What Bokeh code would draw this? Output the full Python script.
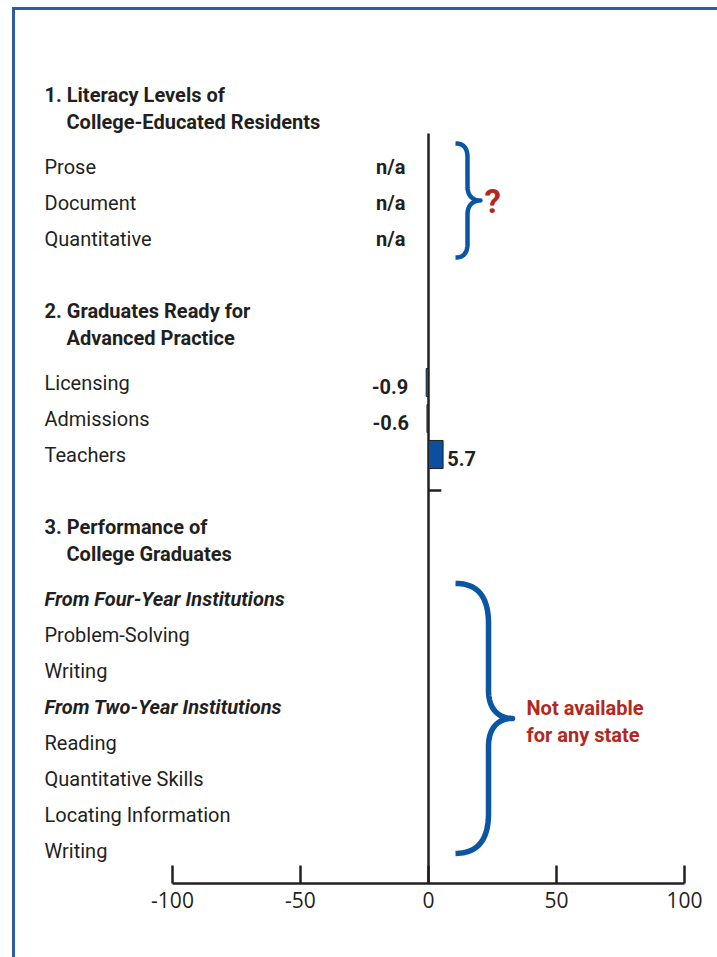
import numpy as np
from bokeh.plotting import figure
from bokeh.models import Range1d, LinearAxis, FixedTicker, ColumnDataSource
from bokeh.core.properties import value
from bokeh.embed import file_html
from bokeh.resources import INLINE

# ---------------- data ----------------
section1_title = ["1. Literacy Levels of", "College-Educated Residents"]
section1_rows = ["Prose", "Document", "Quantitative"]
section1_values = ["n/a", "n/a", "n/a"]

section2_title = ["2. Graduates Ready for", "Advanced Practice"]
section2_rows = ["Licensing", "Admissions", "Teachers"]
section2_values = [-0.9, -0.6, 5.7]

section3_title = ["3. Performance of", "College Graduates"]
section3_group1 = "From Four-Year Institutions"
section3_group1_rows = ["Problem-Solving", "Writing"]
section3_group2 = "From Two-Year Institutions"
section3_group2_rows = ["Reading", "Quantitative Skills", "Locating Information", "Writing"]

note_section1 = "?"
note_section3 = ["Not available", "for any state"]
x_ticks = [-100, -50, 0, 50, 100]
x_tick_labels = ["-100", "-50", "0", "50", "100"]

# ---------------- style ----------------
TEXT = "#231f20"
BLUE = "#0a56a4"
BAR = "#0b4f9e"
RED = "#b3281d"
FRAME = "#2d5ca3"
LABEL_FONT = "Roboto"
TICK_FONT = "Open Sans"

SX = 2.56   # px per x unit
SY = 36.0   # px per row slot
W, H = 717, 957
ZERO_PX = 428          # canvas x of value 0
ROW0_PX = 166          # canvas y of first row

x_start = -ZERO_PX / SX
x_end = (W - ZERO_PX) / SX
y_top = -ROW0_PX / SY
y_bot = (H - ROW0_PX) / SY

# ---------------- row layout (slots) ----------------
s1_head = -2
s1_y = [0, 1, 2]
s2_head = s1_y[-1] + 2
s2_y = [s2_head + 2 + i for i in range(len(section2_rows))]
s3_head = s2_y[-1] + 2
g1_y = s3_head + 2
g1_rows_y = [g1_y + 1 + i for i in range(len(section3_group1_rows))]
g2_y = g1_rows_y[-1] + 1
g2_rows_y = [g2_y + 1 + i for i in range(len(section3_group2_rows))]
axis_y = g2_rows_y[-1] + 0.92
LINE2 = 0.77

p = figure(width=W, height=H, x_range=Range1d(x_start, x_end),
           y_range=Range1d(y_bot, y_top), min_border=0,
           toolbar_location=None, output_backend="svg",
           x_axis_location=None, y_axis_location=None)
p.grid.visible = False
p.outline_line_color = None
p.background_fill_color = "white"
p.border_fill_color = "white"

# frame border (left and top)
bx = x_start + 13 / SX
btop = y_top + 8 / SY
p.segment(x0=[bx, bx - 1.5 / SX], y0=[btop, btop],
          x1=[bx, x_end], y1=[y_bot, btop],
          line_color=FRAME, line_width=3)

# zero line
p.segment(x0=[0], y0=[s1_y[0] - 0.92], x1=[0], y1=[axis_y],
          line_color=TEXT, line_width=2.5)
# separator tick between sections 2 and 3
sep = (s2_y[-1] + s3_head) / 2
p.segment(x0=[0], y0=[sep], x1=[5], y1=[sep], line_color=TEXT, line_width=2.5)

# bars
src = ColumnDataSource(dict(y=s2_y, v=section2_values))
p.hbar(y="y", left=0, right="v", height=0.78, source=src,
       fill_color=BAR, line_color=TEXT, line_width=1)

LX = x_start + 44 / SX
FS = "20px"
# titles
heads = [(section1_title, s1_head), (section2_title, s2_head), (section3_title, s3_head)]
p.text(x=[LX] * 3, y=[h[1] for h in heads], text=[h[0][0] for h in heads],
       text_font=value(LABEL_FONT), text_font_style="bold", text_font_size=FS,
       text_color=TEXT, text_baseline="middle", text_align="left")
p.text(x=[LX + 22 / SX] * 3, y=[h[1] + LINE2 for h in heads], text=[h[0][1] for h in heads],
       text_font=value(LABEL_FONT), text_font_style="bold", text_font_size=FS,
       text_color=TEXT, text_baseline="middle", text_align="left")
# italic groups
p.text(x=[LX, LX], y=[g1_y, g2_y], text=[section3_group1, section3_group2],
       text_font=value(LABEL_FONT), text_font_style="bold italic", text_font_size=FS,
       text_color=TEXT, text_baseline="middle", text_align="left")
# row labels
rows = section1_rows + section2_rows + section3_group1_rows + section3_group2_rows
rows_y = s1_y + s2_y + g1_rows_y + g2_rows_y
p.text(x=[LX] * len(rows), y=rows_y, text=rows,
       text_font=value(LABEL_FONT), text_font_size=FS,
       text_color=TEXT, text_baseline="middle", text_align="left")

# n/a labels
p.text(x=[-9] * 3, y=s1_y, text=section1_values,
       text_font=value(LABEL_FONT), text_font_style="bold", text_font_size=FS,
       text_color=TEXT, text_baseline="middle", text_align="right")
# value labels
neg = [(v, y) for v, y in zip(section2_values, s2_y) if v < 0]
pos = [(v, y) for v, y in zip(section2_values, s2_y) if v >= 0]
p.text(x=[v - 7 for v, _ in neg], y=[y + 0.1 for _, y in neg], text=[f"{v:.1f}" for v, _ in neg],
       text_font=value(LABEL_FONT), text_font_style="bold", text_font_size=FS,
       text_color=TEXT, text_baseline="middle", text_align="right")
p.text(x=[v + 1.6 for v, _ in pos], y=[y + 0.1 for _, y in pos], text=[f"{v:.1f}" for v, _ in pos],
       text_font=value(LABEL_FONT), text_font_style="bold", text_font_size=FS,
       text_color=TEXT, text_baseline="middle", text_align="left")


# braces
def qbez(p0, p1, p2, n=24):
    t = np.linspace(0, 1, n)[:, None]
    return (1 - t) ** 2 * np.array(p0) + 2 * (1 - t) * t * np.array(p1) + t ** 2 * np.array(p2)


def cbez(p0, p1, p2, p3, n=24):
    t = np.linspace(0, 1, n)[:, None]
    return ((1 - t) ** 3 * np.array(p0) + 3 * (1 - t) ** 2 * t * np.array(p1)
            + 3 * (1 - t) * t ** 2 * np.array(p2) + t ** 3 * np.array(p3))


def brace(xe, xv, xt, top, bot, r_end, r_tip):
    """px-space coordinates relative to value 0 / row 0, returned in data units"""
    mid = (top + bot) / 2
    a = qbez((xe, top), (xv, top), (xv, top + r_end))
    c = cbez((xv, mid - r_tip), (xv, mid - r_tip * 0.3), (xv + (xt - xv) * 0.45, mid), (xt, mid))
    c2 = cbez((xt, mid), (xv + (xt - xv) * 0.45, mid), (xv, mid + r_tip * 0.3), (xv, mid + r_tip))
    a2 = qbez((xv, bot - r_end), (xv, bot), (xe, bot))
    pts = np.vstack([a, c, c2, a2])
    return pts[:, 0] / SX, pts[:, 1] / SY


bx1, by1 = brace(27, 39, 52, (s1_y[0] - 0.64) * SY, (s1_y[-1] + 0.53) * SY, 14, 14)
p.line(bx1, by1, line_color=BLUE, line_width=4.5, line_join="round")
bx3, by3 = brace(27, 60, 84, (g1_y - 0.42) * SY, (g2_rows_y[-1] + 0.08) * SY, 40, 28)
p.line(bx3, by3, line_color=BLUE, line_width=5.5, line_join="round")

mid1 = (s1_y[0] - 0.64 + s1_y[-1] + 0.53) / 2
p.text(x=[56 / SX], y=[mid1 + 0.03], text=[note_section1],
       text_font=value(LABEL_FONT), text_font_style="bold", text_font_size="33px",
       text_color=RED, text_baseline="middle", text_align="left")
mid3 = (g1_y - 0.42 + g2_rows_y[-1] + 0.08) / 2
p.text(x=[98 / SX] * 2, y=[mid3 - 0.3, mid3 + 0.47], text=note_section3,
       text_font=value(LABEL_FONT), text_font_style="bold", text_font_size=FS,
       text_color=RED, text_baseline="middle", text_align="left")

# axis
ax = LinearAxis(fixed_location=axis_y, ticker=FixedTicker(ticks=x_ticks),
                bounds=(x_ticks[0], x_ticks[-1]))
ax.major_label_overrides = {t: lab for t, lab in zip(x_ticks, x_tick_labels)}
ax.major_tick_in = 18
ax.major_tick_out = 0
ax.minor_tick_line_color = None
ax.axis_line_width = 2.5
ax.axis_line_color = TEXT
ax.major_tick_line_width = 2.5
ax.major_tick_line_color = TEXT
ax.major_label_text_font = TICK_FONT
ax.major_label_text_font_size = "21px"
ax.major_label_text_color = TEXT
ax.major_label_standoff = 8
p.add_layout(ax, "below")

open("out.html", "w").write(file_html(p, INLINE))
